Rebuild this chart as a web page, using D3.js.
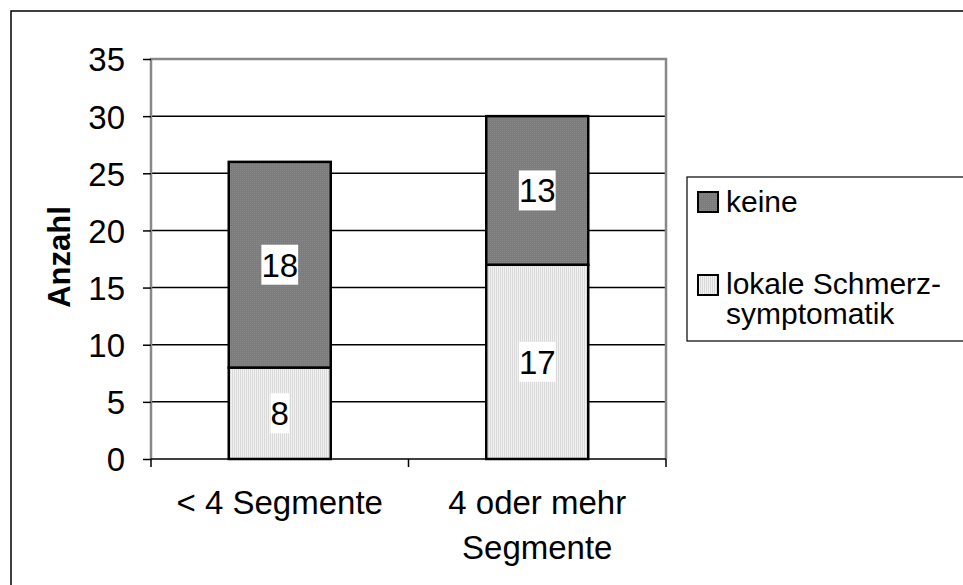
<!DOCTYPE html>
<html><head><meta charset="utf-8">
<script src="https://cdn.jsdelivr.net/npm/d3@7"></script>
<style>body{margin:0;background:#fff}svg{display:block;font-family:"Liberation Sans",Arial,sans-serif}</style>
</head><body>
<svg id="c" width="963" height="585"></svg>
<script>
const categories = [["< 4 Segmente"], ["4 oder mehr", "Segmente"]];
const seriesNames = ["lokale Schmerz-symptomatik", "keine"];
const lokale = [8, 17];
const keine = [18, 13];
const yTicks = [0, 5, 10, 15, 20, 25, 30, 35];

const svg = d3.select("#c");
const defs = svg.append("defs");
const pd = defs.append("pattern").attr("id","pDark").attr("patternUnits","userSpaceOnUse").attr("width",2).attr("height",2);
pd.append("rect").attr("width",2).attr("height",2).attr("fill","#7c7c7c");
pd.append("rect").attr("width",1).attr("height",1).attr("fill","#888");
const pl = defs.append("pattern").attr("id","pLight").attr("patternUnits","userSpaceOnUse").attr("width",2).attr("height",2);
pl.append("rect").attr("width",2).attr("height",2).attr("fill","#f2f2f2");
pl.append("rect").attr("width",1).attr("height",2).attr("fill","#d9d9d9");

// outer border (extends beyond image on right/bottom)
svg.append("rect").attr("x",11).attr("y",11).attr("width",980).attr("height",600)
  .attr("fill","none").attr("stroke","#000").attr("stroke-width",1.5);

const L = 151, R = 666, T = 59, B = 459;
const y = d3.scaleLinear().domain([0,35]).range([B,T]);
const x = d3.scaleBand().domain(d3.range(categories.length)).range([L,R]).paddingInner(0).paddingOuter(0);
const bw = 102;

// gridlines
svg.append("g").selectAll("line").data(yTicks.filter(t=>t>0 && t<35)).join("line")
  .attr("x1",L).attr("x2",R).attr("y1",d=>y(d)).attr("y2",d=>y(d))
  .attr("stroke","#000").attr("stroke-width",1.5);

// plot frame (gray)
svg.append("path").attr("d",`M${L},${B}V${T}H${R}V${B}`).attr("fill","none")
  .attr("stroke","#888").attr("stroke-width",2.5);

// y axis ticks
const yAxis = d3.axisLeft(y).tickValues(yTicks).tickSize(8).tickPadding(18);
const gy = svg.append("g").attr("transform",`translate(${L},0)`).call(yAxis);
gy.attr("font-size",null).attr("font-family",null);
gy.select(".domain").remove();
gy.selectAll(".tick line").attr("stroke","#000").attr("stroke-width",1.5);
gy.selectAll(".tick text").style("font-size","33px").attr("fill","#000").attr("dy","0.36em");

// x axis baseline and ticks
svg.append("line").attr("x1",L).attr("x2",R).attr("y1",B).attr("y2",B).attr("stroke","#000").attr("stroke-width",1.5);
const xt = d3.range(categories.length+1).map(i => L + i*x.bandwidth());
svg.append("g").selectAll("line").data(xt).join("line")
  .attr("x1",d=>d).attr("x2",d=>d).attr("y1",B).attr("y2",B+8).attr("stroke","#000").attr("stroke-width",1.5);

// bars
const stacks = categories.map((c,i)=>[
  {v0:0, v1:lokale[i], fill:"url(#pLight)", val:lokale[i]},
  {v0:lokale[i], v1:lokale[i]+keine[i], fill:"url(#pDark)", val:keine[i]}
]);
stacks.forEach((st,i)=>{
  const cx = x(i) + x.bandwidth()/2;
  st.forEach(s=>{
    svg.append("rect").attr("x",cx-bw/2).attr("y",y(s.v1)).attr("width",bw).attr("height",y(s.v0)-y(s.v1))
      .attr("fill",s.fill).attr("stroke","#000").attr("stroke-width",2.5);
  });
  st.forEach(s=>{
    const cy = (y(s.v0)+y(s.v1))/2;
    const txt = String(s.val);
    const w = txt.length*18.4;
    svg.append("rect").attr("x",cx-w/2).attr("y",cy-20).attr("width",w).attr("height",40).attr("fill","#fff");
    svg.append("text").attr("x",cx).attr("y",cy+12).attr("text-anchor","middle")
      .style("font-size","33px").text(txt);
  });
});

// category labels
categories.forEach((lines,i)=>{
  const cx = x(i) + x.bandwidth()/2;
  lines.forEach((ln,j)=>{
    svg.append("text").attr("x",cx).attr("y",514+j*45).attr("text-anchor","middle").style("font-size","33px").text(ln);
  });
});

// y title
svg.append("text").attr("transform","translate(70,257) rotate(-90)").attr("text-anchor","middle")
  .style("font-size","31px").attr("font-weight","bold").text("Anzahl");

// legend
svg.append("rect").attr("x",687).attr("y",177).attr("width",300).attr("height",164)
  .attr("fill","#fff").attr("stroke","#000").attr("stroke-width",1.2);
const leg = [
  {fill:"url(#pDark)", lines:["keine"], sy:192, by:212},
  {fill:"url(#pLight)", lines:["lokale Schmerz-","symptomatik"], sy:275, by:294}
];
leg.forEach(l=>{
  svg.append("rect").attr("x",698).attr("y",l.sy).attr("width",20).attr("height",20)
    .attr("fill",l.fill).attr("stroke","#000").attr("stroke-width",2);
  l.lines.forEach((ln,j)=>{
    svg.append("text").attr("x",726).attr("y",l.by+j*30).style("font-size","30px").text(ln);
  });
});
</script>
</body></html>
